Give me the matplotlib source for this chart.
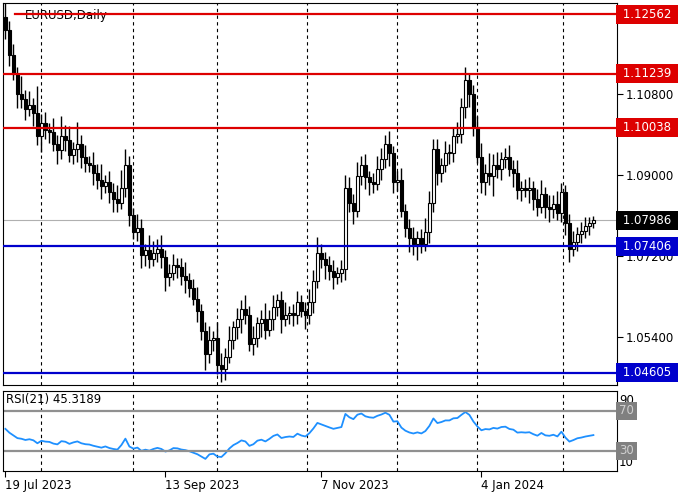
import numpy as np
import matplotlib
matplotlib.use("Agg")
import matplotlib.pyplot as plt

# daily closes EURUSD
closes = [
    1.1221, 1.1166, 1.1124, 1.1078, 1.1067, 1.1046, 1.1055, 1.1037, 1.0986, 1.1014,
    1.1000, 1.0995, 1.0967, 1.0954, 1.0986, 1.0977, 1.0944, 1.0958, 1.0967, 1.0940,
    1.0926, 1.0921, 1.0903, 1.0889, 1.0875, 1.0884, 1.0861, 1.0847, 1.0838, 1.0870,
    1.0921, 1.0810, 1.0773, 1.0782, 1.0722, 1.0732, 1.0713, 1.0727, 1.0736, 1.0718,
    1.0672, 1.0681, 1.0699, 1.0695, 1.0676, 1.0667, 1.0649, 1.0625, 1.0598, 1.0552,
    1.0501, 1.0533, 1.0538, 1.0478, 1.0469, 1.0496, 1.0533, 1.0561, 1.0579, 1.0602,
    1.0588, 1.0524, 1.0538, 1.0570, 1.0579, 1.0556, 1.0579, 1.0607, 1.0621, 1.0579,
    1.0588, 1.0593, 1.0588, 1.0617, 1.0598, 1.0588, 1.0617, 1.0663, 1.0727, 1.0713,
    1.0699, 1.0685, 1.0672, 1.0681, 1.0690, 1.0870, 1.0838, 1.0820, 1.0898, 1.0921,
    1.0894, 1.0884, 1.0880, 1.0912, 1.0935, 1.0967, 1.0949, 1.0884, 1.0889, 1.0820,
    1.0782, 1.0759, 1.0746, 1.0759, 1.0746, 1.0773, 1.0838, 1.0958, 1.0903, 1.0921,
    1.0949, 1.0949, 1.0986, 1.0991, 1.1050, 1.1110, 1.1080, 1.1005, 1.0940, 1.0884,
    1.0903, 1.0898, 1.0921, 1.0912, 1.0935, 1.0940, 1.0912, 1.0903, 1.0866, 1.0870,
    1.0866, 1.0870, 1.0847, 1.0829, 1.0857, 1.0829, 1.0824, 1.0834, 1.0815, 1.0861,
    1.0792, 1.0735, 1.0750, 1.0768, 1.0775, 1.0785, 1.0792, 1.07986,
]
# wick extension in pips (upper, lower)
wick_up = [
    30, 20, 25, 15, 40, 20, 30, 15, 60, 20, 25, 15, 30, 20, 45, 25, 30, 15, 50, 20,
    25, 15, 30, 20, 35, 15, 25, 20, 30, 40, 35, 20, 15, 30, 20, 15, 35, 25, 20, 30,
    15, 20, 25, 15, 20, 30, 15, 20, 25, 15, 20, 30, 15, 35, 25, 20, 30, 15, 25, 20,
    30, 20, 25, 15, 20, 35, 20, 25, 15, 20, 30, 15, 20, 25, 15, 20, 30, 25, 35, 20,
    15, 20, 25, 15, 20, 30, 25, 20, 30, 20, 25, 15, 20, 30, 25, 20, 30, 15, 20, 25,
    15, 20, 25, 15, 20, 30, 25, 20, 20, 15, 25, 20, 20, 25, 20, 30, 15, 20, 25, 30,
    20, 45, 25, 30, 15, 20, 25, 20, 30, 15, 20, 25, 15, 20, 30, 15, 25, 20, 30, 20,
    15, 20, 25, 15, 20, 20, 15, 10,
]
wick_dn = [
    20, 25, 15, 30, 20, 25, 15, 30, 20, 35, 20, 25, 15, 30, 20, 25, 15, 20, 30, 25,
    20, 15, 25, 20, 30, 15, 25, 30, 20, 15, 20, 25, 15, 20, 30, 25, 20, 15, 20, 25,
    30, 20, 15, 25, 20, 30, 20, 15, 25, 20, 35, 20, 25, 20, 30, 25, 15, 20, 25, 30,
    20, 15, 25, 20, 30, 20, 15, 25, 20, 30, 15, 20, 25, 20, 15, 30, 20, 25, 15, 20,
    30, 20, 25, 15, 20, 25, 20, 30, 15, 20, 25, 30, 20, 15, 25, 20, 30, 25, 20, 15,
    20, 30, 25, 35, 20, 15, 25, 20, 25, 20, 15, 25, 20, 15, 20, 25, 30, 20, 15, 25,
    30, 20, 45, 20, 25, 20, 15, 30, 20, 25, 15, 30, 25, 20, 15, 25, 30, 20, 15, 20,
    25, 30, 15, 20, 20, 15, 20, 10,
]
opens = [1.1250] + closes[:-1]

h_red = [1.12562, 1.11239, 1.10038]
h_blue = [1.07406, 1.04605]
last_price = 1.07986
axis_prices = [1.10800, 1.09000, 1.07200, 1.05400]
date_labels = ["19 Jul 2023", "13 Sep 2023", "7 Nov 2023", "4 Jan 2024"]
date_idx = [0, 40, 79, 119]
grid_idx = [8.8, 31.8, 52.8, 75.5, 97.8, 117.8, 139.5]
rsi_text = "RSI(21) 45.3189"

c = np.array(closes)
o = np.array(opens)
hi = np.maximum(o, c) + np.array(wick_up) * 1e-4
lo = np.minimum(o, c) - np.array(wick_dn) * 1e-4

# RSI(21), Wilder smoothing, seeded with a neutral average
d = np.diff(c, prepend=opens[0])
avg_u, avg_d = 0.0019, 0.0016
rsi = []
for v in d:
    avg_u = (avg_u * 20 + max(v, 0)) / 21
    avg_d = (avg_d * 20 + max(-v, 0)) / 21
    rsi.append(100 - 100 / (1 + avg_u / avg_d))
rsi = np.array(rsi)

plt.rcParams["font.family"] = "DejaVu Sans"
fig = plt.figure(figsize=(7, 5), dpi=100)
W, H = 700, 500
ax = fig.add_axes([3 / W, 1 - 385 / H, 614 / W, 382 / H])
ax2 = fig.add_axes([3 / W, 1 - 471 / H, 614 / W, 80 / H])

x = np.arange(len(c))
for i in x:
    ax.vlines(i, lo[i], hi[i], color="black", lw=1, zorder=3)
    b0, b1 = min(o[i], c[i]), max(o[i], c[i])
    face = "white" if c[i] >= o[i] else "black"
    ax.bar(i, max(b1 - b0, 0.00008), bottom=b0, width=0.6, color=face,
           edgecolor="black", lw=0.8, zorder=4)

xlim = (-0.6, 152.9)
for a in (ax, ax2):
    a.set_xlim(*xlim)
    for g in grid_idx:
        a.axvline(g, color="black", ls=(0, (3, 3)), lw=0.8, zorder=1)
    a.tick_params(axis="x", length=0)

ax.set_ylim(1.0433, 1.1281)
for p in h_red:
    ax.axhline(p, color="#dd0000", lw=1.6, zorder=5,
               xmin=0.02 if p == h_red[0] else 0)
for p in h_blue:
    ax.axhline(p, color="#0000cc", lw=1.6, zorder=5)
ax.axhline(last_price, color="#b0b0b0", lw=0.8, zorder=2)

ax.yaxis.tick_right()
ax.set_yticks(axis_prices)
ax.set_yticklabels([f"{p:.5f}" for p in axis_prices], fontsize=8.5)
ax.tick_params(axis="y", length=4, pad=2)
ax.set_xticks([])


def tag(a, y, text, bg, fg="white"):
    a.text(1.003, y, text, transform=a.get_yaxis_transform(), fontsize=8.5,
           color=fg, va="center", ha="left", zorder=10, clip_on=False,
           bbox=dict(boxstyle="square,pad=0.25", fc=bg, ec="none"))


for p in h_red:
    tag(ax, p, f" {p:.5f} ", "#dd0000")
for p in h_blue:
    tag(ax, p, f" {p:.5f} ", "#0000cc")
tag(ax, last_price, f" {last_price:.5f} ", "black")
ax.text(0.035, 0.985, "EURUSD,Daily", transform=ax.transAxes, fontsize=8.5,
        va="top", ha="left", zorder=2)

ax2.plot(x, rsi, color="#1e90ff", lw=1.3)
ax2.set_ylim(10, 90)
for lv in (70, 30):
    ax2.axhline(lv, color="#909090", lw=1.6)
ax2.set_yticks([])
for lv, t in ((80, "90"), (18, "10")):
    ax2.text(1.003, lv, t, transform=ax2.get_yaxis_transform(), fontsize=8.5,
             va="center", ha="left", clip_on=False)
for lv in (70, 30):
    tag(ax2, lv, str(lv), "#808080", fg="#d0d0d0")
ax2.text(0.005, 0.97, rsi_text, transform=ax2.transAxes,
         fontsize=8.5, va="top", ha="left")
ax2.set_xticks(date_idx)
ax2.set_xticklabels(date_labels, fontsize=8.5, ha="left")
ax2.tick_params(axis="x", length=4, pad=2)

fig.savefig("out.png", dpi=100)
